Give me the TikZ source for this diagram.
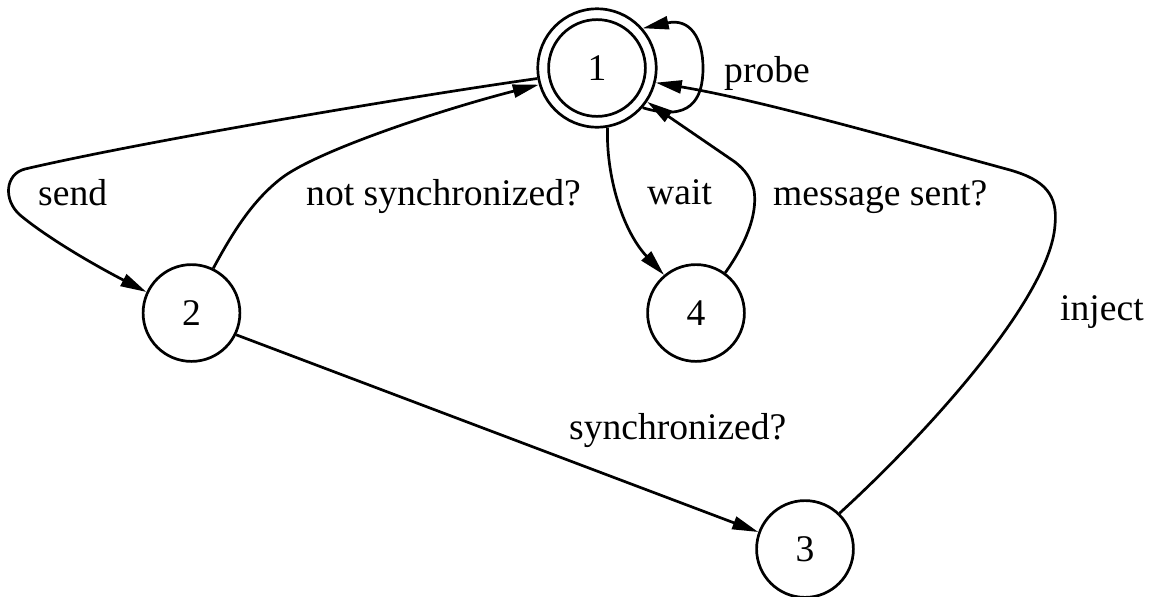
\documentclass[tikz,border=0pt]{standalone}
\usepackage{fontspec}
\setmainfont{Liberation Serif}
\usetikzlibrary{arrows.meta}

\begin{document}
\begin{tikzpicture}[x=1pt,y=-1pt,
  every node/.style={font=\fontsize{37.6}{45}\selectfont},
  state/.style={draw,circle,line width=2.7pt,inner sep=0pt,minimum size=96.8pt},
  accept/.style={state,minimum size=118.4pt},
  edge/.style={line width=2.7pt,-{Triangle[length=26pt,width=13pt]}},
  lbl/.style={anchor=base west,inner sep=0pt}]
\useasboundingbox (0,0) rectangle (1157,597);

% states
\node[accept] (n1) at (597,68) {1};
\draw[line width=2.7pt] (n1.center) circle[radius=48.4];
\node[state] (n2) at (191.5,313) {2};
\node[state] (n4) at (696,313) {4};
\node[state] (n3) at (805,549) {3};

% transitions
\draw[edge] (n1.319) .. controls (690,122) and (703,100) .. (703,68)
  .. controls (703,38) and (690,18) .. (n1.41);
\draw[edge] (n1.190) .. controls (420,95) and (150,140) .. (25,169)
  .. controls (5,174) and (3,200) .. (20,215)
  .. controls (50,240) and (100,268) .. (n2.155);
\draw[edge] (n2.64) .. controls (235,228) and (255,198) .. (283,177)
  .. controls (320,150) and (440,110) .. (n1.196);
\draw[edge] (n1.280) .. controls (606,175) and (622,230) .. (n4.130);
\draw[edge] (n4.54) .. controls (745,245) and (758,215) .. (754,190)
  .. controls (751,178) and (745,170) .. (735,162) -- (n1.326);
\draw[edge] (n2.334) -- (n3.160);
\draw[edge] (n3.46) .. controls (920,440) and (1050,300) .. (1055,225)
  .. controls (1058,195) and (1045,180) .. (1010,170)
  .. controls (900,140) and (760,100) .. (n1.346);

% labels
\node[lbl] (lprobe) at (724,82) {probe};
\node[lbl] (lsend) at (38,205) {send};
\node[lbl] (lnsync) at (306,205) {not synchronized?};
\node[lbl] (lwait) at (647,204) {wait};
\node[lbl] (lsent) at (773,205) {message sent?};
\node[lbl] (linject) at (1060,320) {inject};
\node[lbl] (lsync) at (569,439) {synchronized?};
\end{tikzpicture}
\end{document}
